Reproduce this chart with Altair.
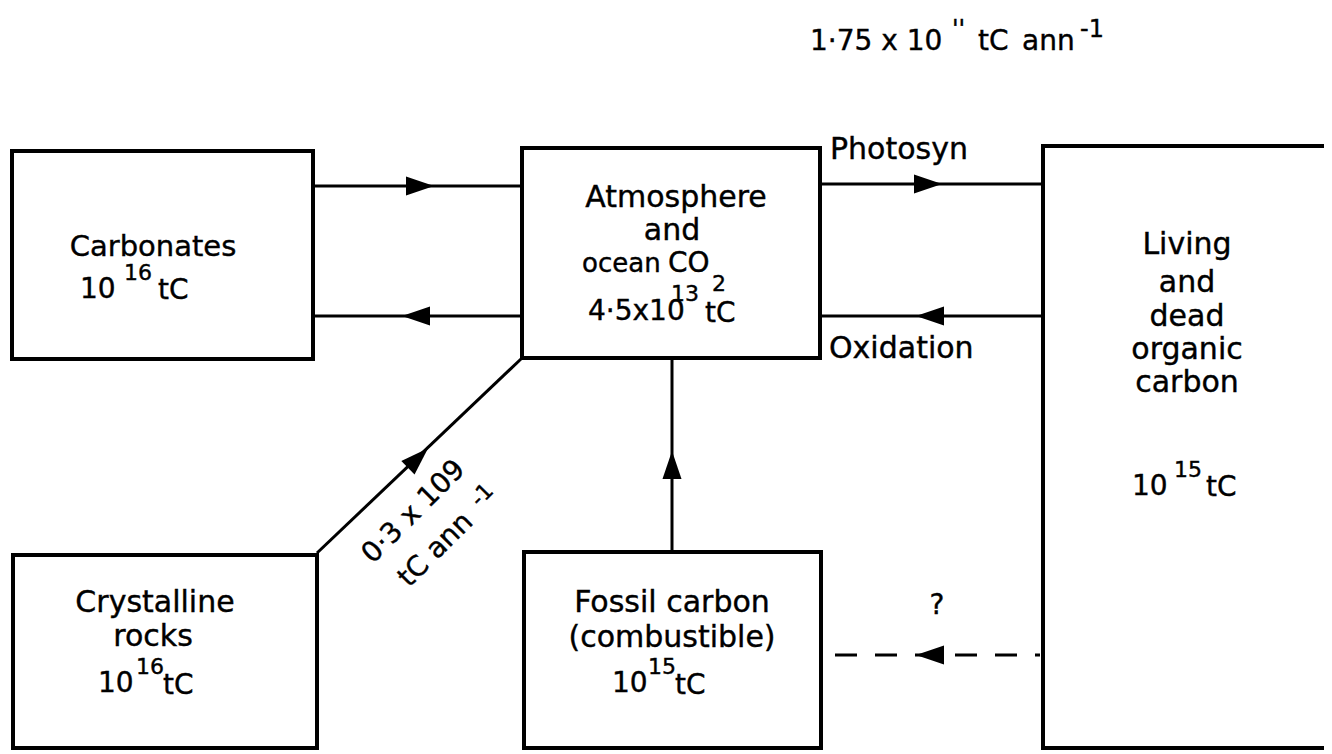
import altair as alt
import pandas as pd

W, H = 1316, 744
X0, Y0 = 8, 8
FONT = "DejaVu Sans"

# ---- boxes (reservoirs) ----
box_names = ["Carbonates", "Atmosphere", "Living", "Crystalline", "Fossil"]
box_x1 = [12, 522, 1043, 13, 524]
box_x2 = [313, 820, 1350, 317, 821]
box_y1 = [151, 148, 146, 555, 552]
box_y2 = [359, 358, 748, 748, 748]

# ---- solid flow lines ----
line_x1 = [313, 313, 820, 820, 317, 672]
line_y1 = [186, 316, 184, 316, 553, 552]
line_x2 = [522, 522, 1043, 1043, 522, 672]
line_y2 = [186, 316, 184, 316, 358, 358]

# ---- dashed flow line ----
dash_x1 = [835]
dash_x2 = [1040]
dash_y = [655]

# ---- arrow heads ----
arrow_x = [420, 416, 928, 930, 418, 672, 930]
arrow_y = [186, 316, 184, 316, 458, 465, 655]
arrow_angle = [0, 180, 0, 180, 316, 270, 180]

# ---- centred labels ----
c_text = ["Carbonates", "Atmosphere", "and", "Living", "and", "dead", "organic", "carbon",
          "Crystalline", "rocks", "Fossil   carbon", "(combustible)", "?",
          "0·3 x 109", "tC  ann", "-1"]
c_x = [153, 676, 672, 1187, 1187, 1187, 1187, 1187, 155, 153, 672, 672, 937, 414, 436, 482]
c_y = [247, 198, 231, 245, 283, 317, 350, 383, 603, 637, 603, 638, 606, 512, 550, 495]
c_size = [29, 30, 30, 30, 30, 30, 30, 30, 30, 30, 30, 30, 28, 28, 28, 22]
c_angle = [0] * 13 + [315, 315, 315]

# ---- left-aligned labels and superscripts ----
l_text = ["Photosyn", "Oxidation",
          "1·75 x 10", "''", "tC", "ann", "-1",
          "10", "16", "tC",
          "ocean", "CO", "2", "4·5x10", "13", "tC",
          "10", "15", "tC",
          "10", "16", "tC",
          "10", "15", "tC"]
l_x = [830, 829,
       810, 952, 978, 1022, 1080,
       80, 124, 158,
       582, 668, 712, 588, 671, 705,
       1132, 1174, 1206,
       98, 136, 163,
       612, 648, 675]
l_y = [150, 349,
       42, 30, 42, 42, 30,
       290, 273, 291,
       264, 264, 284, 312, 294, 314,
       487, 470, 488,
       684, 667, 686,
       684, 667, 686]
l_size = [30, 30,
          28, 24, 28, 28, 24,
          28, 22, 28,
          26, 28, 22, 28, 22, 28,
          28, 22, 28,
          28, 22, 28,
          28, 22, 28]

boxes = pd.DataFrame({"name": box_names, "x1": box_x1, "x2": box_x2, "y1": box_y1, "y2": box_y2})
lines = pd.DataFrame({"x1": line_x1, "y1": line_y1, "x2": line_x2, "y2": line_y2})
dashes = pd.DataFrame({"x1": dash_x1, "x2": dash_x2, "y": dash_y})
arrows = pd.DataFrame({"x": arrow_x, "y": arrow_y, "angle": arrow_angle})
ctext = pd.DataFrame({"text": c_text, "x": c_x, "y": c_y, "size": c_size, "angle": c_angle})
ltext = pd.DataFrame({"text": l_text, "x": l_x, "y": l_y, "size": l_size})

xs = alt.Scale(domain=[X0, X0 + W])
ys = alt.Scale(domain=[Y0, Y0 + H], reverse=True)

def X(f):
    return alt.X(f, type="quantitative", scale=xs, axis=None)

def Y(f):
    return alt.Y(f, type="quantitative", scale=ys, axis=None)

rects = alt.Chart(boxes).mark_rect(fill="white", stroke="black", strokeWidth=4, clip=True).encode(
    x=X("x1"), x2="x2", y=Y("y1"), y2="y2")

rules = alt.Chart(lines).mark_rule(color="black", strokeWidth=3).encode(
    x=X("x1"), y=Y("y1"), x2="x2", y2="y2")

drule = alt.Chart(dashes).mark_rule(color="black", strokeWidth=3, strokeDash=[22, 18]).encode(
    x=X("x1"), x2="x2", y=Y("y"))

heads = alt.Chart(arrows).mark_point(
    shape="M1,0L-1,-0.68L-1,0.68Z", filled=True, size=784, color="black", opacity=1
).encode(x=X("x"), y=Y("y"), angle=alt.Angle("angle:Q", scale=None))

ctexts = alt.Chart(ctext).mark_text(align="center", baseline="middle", font=FONT, color="black",
                                    stroke="black", strokeWidth=0.4).encode(
    x=X("x"), y=Y("y"), text="text:N",
    size=alt.Size("size:Q", scale=None, legend=None),
    angle=alt.Angle("angle:Q", scale=None))

ltexts = alt.Chart(ltext).mark_text(align="left", baseline="middle", font=FONT, color="black",
                                    stroke="black", strokeWidth=0.4).encode(
    x=X("x"), y=Y("y"), text="text:N",
    size=alt.Size("size:Q", scale=None, legend=None))

chart = alt.layer(rules, drule, rects, heads, ctexts, ltexts).properties(
    width=W, height=H, padding=0, background="white",
    autosize=alt.AutoSizeParams(type="fit", contains="padding"),
).configure_view(stroke=None)

chart.save("out.html", embed_options={"renderer": "svg", "actions": False})
